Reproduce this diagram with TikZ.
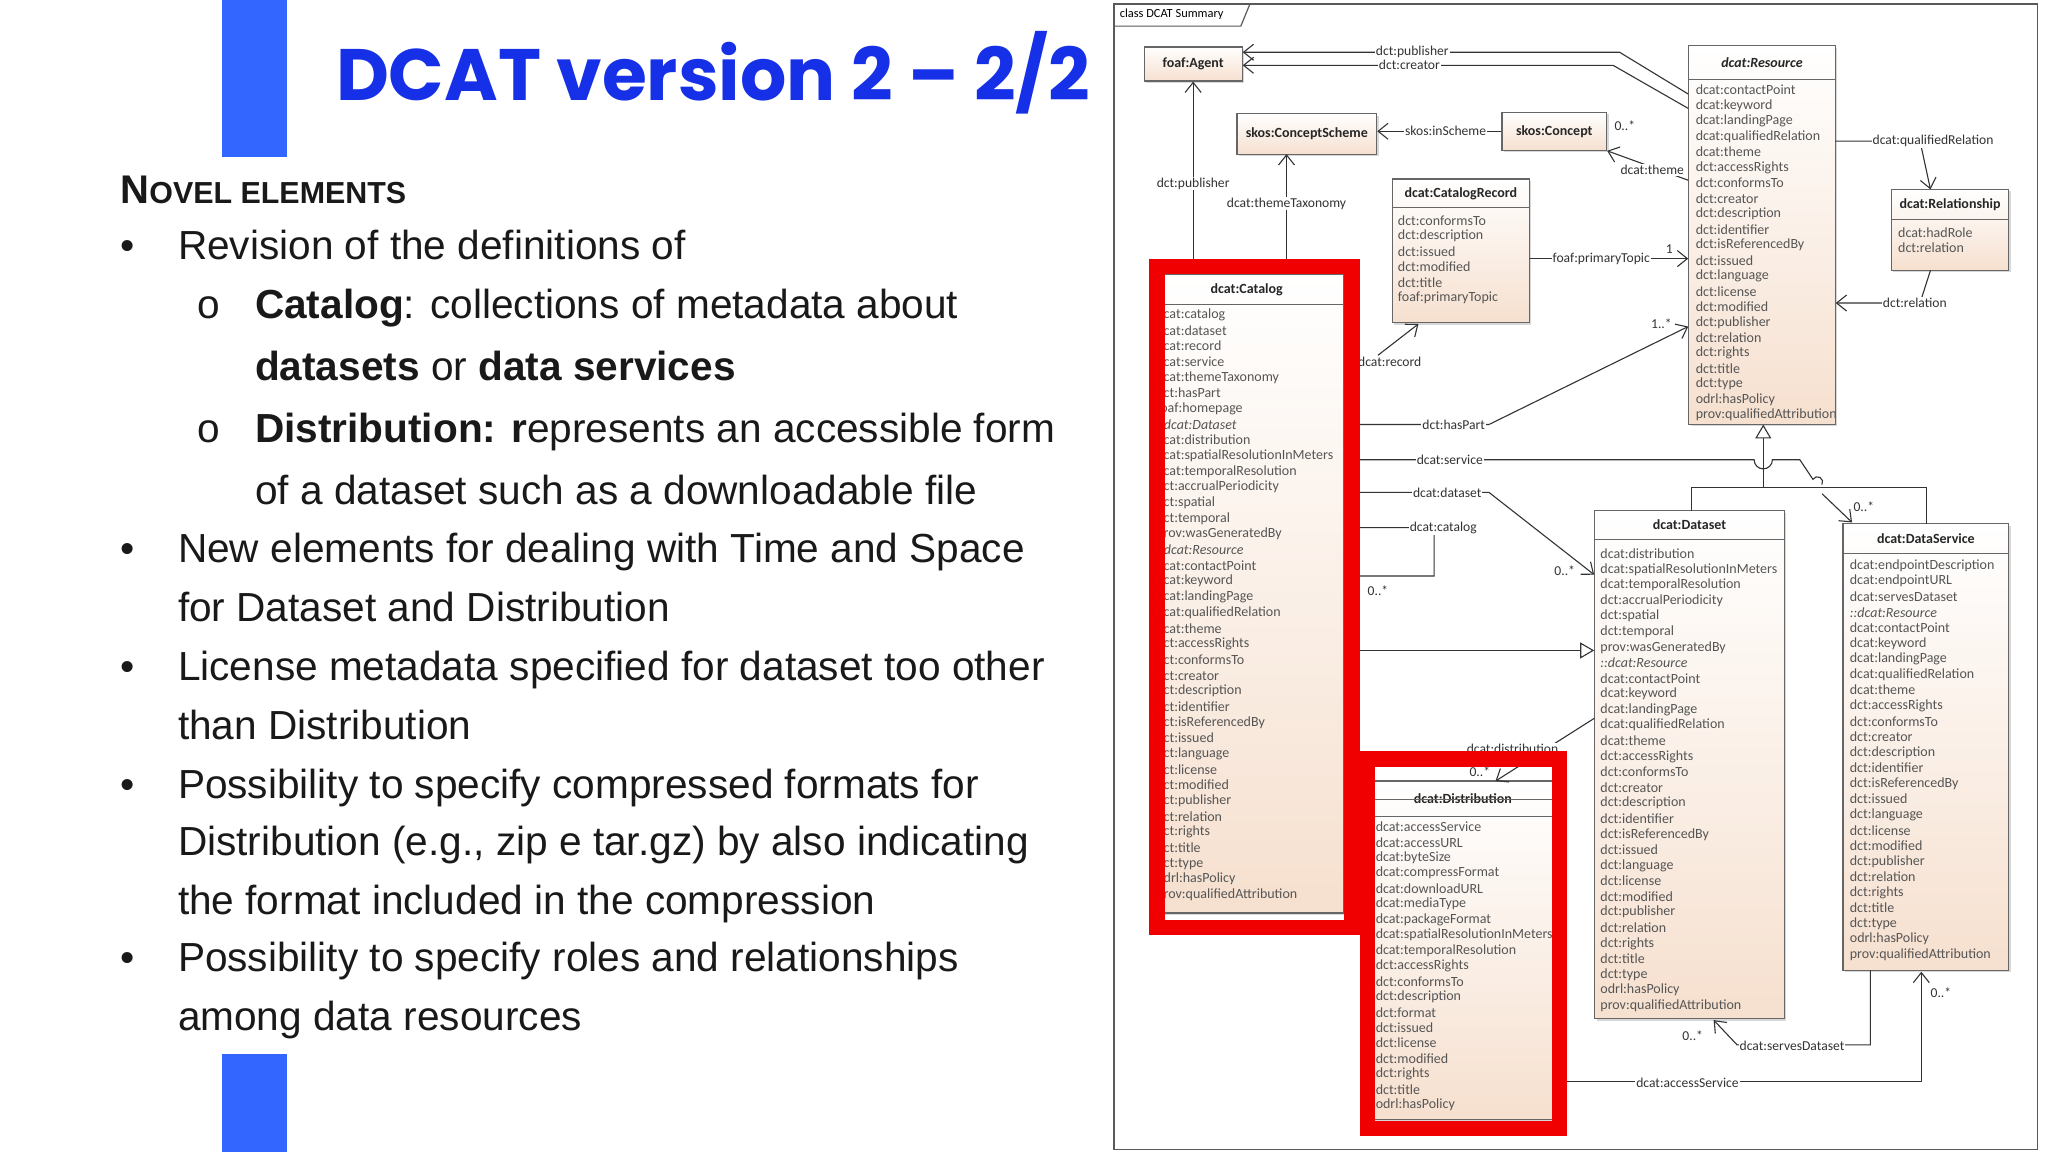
\documentclass[tikz,border=0pt]{standalone}
\usepackage{fontspec}
\setmainfont{Liberation Sans}
\newfontfamily\titlefont{Poppins}
\newfontfamily\umlfont{Carlito}
\usetikzlibrary{arrows.meta,shadows}
\definecolor{titleblue}{HTML}{1530E6}
\definecolor{barblue}{HTML}{3366FF}
\definecolor{peach}{HTML}{F6E0CF}
\definecolor{umlgray}{HTML}{555555}
\definecolor{redframe}{HTML}{F00000}
\tikzset{
  umlbox/.style={draw=gray!80!black, line width=0.6pt, top color=white, bottom color=peach, drop shadow={shadow xshift=1pt,shadow yshift=-1pt,opacity=0.3}, inner sep=0pt},
  umltitle/.style={font=\umlfont\fontsize{7}{8}\selectfont\bfseries, text=black!85},
  attr/.style={font=\umlfont\fontsize{7}{8}\selectfont, text=umlgray, anchor=west, inner sep=0pt},
  lab/.style={font=\umlfont\fontsize{6.8}{8}\selectfont, text=black!80, fill=white, inner sep=0.5pt},
  mult/.style={font=\umlfont\fontsize{6.8}{8}\selectfont, text=black!80, inner sep=0.5pt},
  conn/.style={draw=black!80, line width=0.55pt},
  assoc/.style={conn, -{Straight Barb[length=5pt,width=8pt]}},
  gen/.style={conn, -{Triangle[open,length=7pt,width=8pt,fill=white]}},
  redbox/.style={draw=redframe, line width=7.8pt},
  slide/.style={font=\fontsize{20.3}{24}\selectfont, anchor=base west, inner sep=0pt, text=black!90},
}
\newcommand\umlbox[7]{%
  \node[umlbox, minimum width={(#4-#2)*0.6531pt}, minimum height={(#5-#3)*0.6531pt}] (#1) at ({(#2+#4)/2},{(#3+#5)/2}) {};
  \draw[gray!80!black, line width=0.6pt] (#2,#6) -- (#4,#6);
  \node[umltitle] (#1t) at ({(#2+#4)/2},{(#3+#6)/2}) {#7};
}
\newcommand\attrlist[4]{%
  \foreach \t [count=\i from 0] in {#4} \node[attr] at (#1,{#2+\i*#3}) {\t};
}
\begin{document}
\begin{tikzpicture}[x=0.6531pt,y=-0.6531pt]
\useasboundingbox (0,0) rectangle (1568,882);
\fill[white] (0,0) rectangle (1568,882);
% blue bars
\fill[barblue] (170,0) rectangle (220,120);
\fill[barblue] (170,807) rectangle (220,882);
\node[anchor=base west, inner sep=0pt, text=titleblue, font=\titlefont\fontsize{36.4}{40}\selectfont\bfseries] (title) at (257,77) {DCAT version 2 – 2/2};
% left text
\node[anchor=base west, inner sep=0pt, font=\bfseries, text=black!90] (novel) at (92,156) {{\fontsize{20}{20}\selectfont N}{\fontsize{15.2}{16}\selectfont OVEL ELEMENTS}};
\node[slide] (b1) at (92,199) {•}; \node[slide] (l1) at (136,199) {Revision of the definitions of};
\node[slide] (o1) at (151,244) {o}; \node[slide] (l2) at (195,244) {\textbf{Catalog}: collections of metadata about};
\node[slide] (l3) at (195,291) {\textbf{datasets} or \textbf{data services}};
\node[slide] (o2) at (151,339) {o}; \node[slide] (l4) at (195,339) {\textbf{Distribution: r}epresents an accessible form};
\node[slide] (l5) at (195,386) {of a dataset such as a downloadable file};
\node[slide] (b2) at (92,431) {•}; \node[slide] (l6) at (136,431) {New elements for dealing with Time and Space};
\node[slide] (l7) at (136,476) {for Dataset and Distribution};
\node[slide] (b3) at (92,521) {•}; \node[slide] (l8) at (136,521) {License metadata specified for dataset too other};
\node[slide] (l9) at (136,566) {than Distribution};
\node[slide] (b4) at (92,611) {•}; \node[slide] (l10) at (136,611) {Possibility to specify compressed formats for};
\node[slide] (l11) at (136,655) {Distribution (e.g., zip e tar.gz) by also indicating};
\node[slide] (l12) at (136,700) {the format included in the compression};
\node[slide] (b5) at (92,744) {•}; \node[slide] (l13) at (136,744) {Possibility to specify roles and relationships};
\node[slide] (l14) at (136,789) {among data resources};
% diagram frame
\draw[gray!70!black, line width=0.8pt] (853,3) rectangle (1560,880);
\draw[gray!70!black, line width=0.6pt] (853,20) -- (950,20) -- (957,3);
\node[font=\umlfont\fontsize{6.2}{7}\selectfont, anchor=west, inner sep=0pt] (frametitle) at (857,11) {class DCAT Summary};
% boxes
\umlbox{agent}{876}{36}{951}{62}{62}{foaf:Agent}
\umlbox{scheme}{947}{87}{1054}{118}{118}{skos:ConceptScheme}
\umlbox{concept}{1150}{86}{1230}{115}{115}{skos:Concept}
\umlbox{res}{1293}{35}{1405}{325}{61}{\textit{dcat:Resource}}
\attrlist{1298}{69}{11.85}{dcat:contactPoint,dcat:keyword,dcat:landingPage,dcat:qualifiedRelation,dcat:theme,dct:accessRights,dct:conformsTo,dct:creator,dct:description,dct:identifier,dct:isReferencedBy,dct:issued,dct:language,dct:license,dct:modified,dct:publisher,dct:relation,dct:rights,dct:title,dct:type,odrl:hasPolicy,prov:qualifiedAttribution}
\umlbox{rel}{1448}{145}{1538}{207}{168}{dcat:Relationship}
\attrlist{1453}{178}{11.85}{dcat:hadRole,dct:relation}
\umlbox{rec}{1066}{137}{1171}{247}{159}{dcat:CatalogRecord}
\attrlist{1070}{169}{11.85}{dct:conformsTo,dct:description,dct:issued,dct:modified,dct:title,foaf:primaryTopic}
\umlbox{cat}{880}{210}{1029}{699}{233}{dcat:Catalog}
\attrlist{885}{241}{12.0}{dcat:catalog,dcat:dataset,dcat:record,dcat:service,dcat:themeTaxonomy,dct:hasPart,foaf:homepage,{\textit{::dcat:Dataset}},dcat:distribution,dcat:spatialResolutionInMeters,dcat:temporalResolution,dct:accrualPeriodicity,dct:spatial,dct:temporal,prov:wasGeneratedBy,{\textit{::dcat:Resource}},dcat:contactPoint,dcat:keyword,dcat:landingPage,dcat:qualifiedRelation,dcat:theme,dct:accessRights,dct:conformsTo,dct:creator,dct:description,dct:identifier,dct:isReferencedBy,dct:issued,dct:language,dct:license,dct:modified,dct:publisher,dct:relation,dct:rights,dct:title,dct:type,odrl:hasPolicy,prov:qualifiedAttribution}
\umlbox{ds}{1221}{391}{1366}{780}{413}{dcat:Dataset}
\attrlist{1225}{424}{11.93}{dcat:distribution,dcat:spatialResolutionInMeters,dcat:temporalResolution,dct:accrualPeriodicity,dct:spatial,dct:temporal,prov:wasGeneratedBy,{\textit{::dcat:Resource}},dcat:contactPoint,dcat:keyword,dcat:landingPage,dcat:qualifiedRelation,dcat:theme,dct:accessRights,dct:conformsTo,dct:creator,dct:description,dct:identifier,dct:isReferencedBy,dct:issued,dct:language,dct:license,dct:modified,dct:publisher,dct:relation,dct:rights,dct:title,dct:type,odrl:hasPolicy,prov:qualifiedAttribution}
\umlbox{svc}{1411}{401}{1538}{743}{424}{dcat:DataService}
\attrlist{1416}{433}{11.92}{dcat:endpointDescription,dcat:endpointURL,dcat:servesDataset,{\textit{::dcat:Resource}},dcat:contactPoint,dcat:keyword,dcat:landingPage,dcat:qualifiedRelation,dcat:theme,dct:accessRights,dct:conformsTo,dct:creator,dct:description,dct:identifier,dct:isReferencedBy,dct:issued,dct:language,dct:license,dct:modified,dct:publisher,dct:relation,dct:rights,dct:title,dct:type,odrl:hasPolicy,prov:qualifiedAttribution}
\umlbox{dist}{1048}{598}{1192}{857}{625}{dcat:Distribution}
\attrlist{1053}{633}{11.83}{dcat:accessService,dcat:accessURL,dcat:byteSize,dcat:compressFormat,dcat:downloadURL,dcat:mediaType,dcat:packageFormat,dcat:spatialResolutionInMeters,dcat:temporalResolution,dct:accessRights,dct:conformsTo,dct:description,dct:format,dct:issued,dct:license,dct:modified,dct:rights,dct:title,odrl:hasPolicy}
\draw[gray!80!black, line width=0.6pt] (1048,612) -- (1192,612);
% connectors
\draw[assoc] (res.west |- 0,72) -- (1240,40) -- (agent.east |- 0,40) node[lab, pos=0.55] {dct:publisher};
\draw[assoc] (res.west |- 0,83) -- (1235,50) -- (agent.east |- 0,50) node[lab, pos=0.55] {dct:creator};
\draw[assoc] (agent.south |- cat.north) -- (agent.south) node[lab, pos=0.47] {dct:publisher};
\draw[assoc] (985,210) -- (985,118) node[lab, pos=0.59] {dcat:themeTaxonomy};
\draw[assoc] (concept.west) -- (scheme.east |- concept.west) node[lab, pos=0.45] {skos:inScheme};
\draw[assoc] (res.west |- 0,138) -- (concept.south east);
\node[lab] (themelab) at (1265,130) {dcat:theme};
\node[mult] (m1) at (1244,96) {0..*};
\draw[assoc] (rec.east |- 0,198) -- (res.west |- 0,198) node[lab, pos=0.45] {foaf:primaryTopic};
\node[mult] (m2) at (1278,191) {1};
\draw[assoc] (1055,272) -- (1086,248);
\node[lab] (reclab) at (1064,277) {dcat:record};
\draw[assoc] (cat.east |- 0,325) -- (1140,325) -- (res.west |- 0,250);
\node[lab] (haspart) at (1113,325) {dct:hasPart};
\node[mult] (m3) at (1272,248) {1..*};
\draw[conn] (cat.east |- 0,352) -- (1343,352) arc[start angle=180,end angle=0,radius=7] -- (1378,352) -- (1388,367) arc[start angle=-150,end angle=30,radius=4] ;
\draw[assoc] (1395,378) -- (1418,400);
\node[lab] (svclab) at (1110,352) {dcat:service};
\node[mult] (m4) at (1427,388) {0..*};
\draw[gen] (1350,373) -- (1350,325);
\draw[conn] (1295,391) -- (1295,373) -- (1475,373) -- (1475,401);
\draw[assoc] (cat.east |- 0,377) -- (1140,377) -- (ds.west |- 0,440);
\node[lab] (dslab) at (1108,377) {dcat:dataset};
\node[mult] (m5) at (1198,437) {0..*};
\draw[assoc] (cat.east |- 0,404) -- (1098,404) -- (1098,441) -- (1036,441) -- (1031,446);
\node[lab] (catlab) at (1105,404) {dcat:catalog};
\node[mult] (m6) at (1055,452) {0..*};
\draw[gen] (cat.east |- 0,498) -- (ds.west |- 0,498);
\draw[assoc] (ds.west |- 0,550) -- (1145,598);
\node[lab] (distlab) at (1158,573) {dcat:distribution};
\node[mult] (m7) at (1133,591) {0..*};
\draw[assoc] (1432,743) -- (1432,800) -- (1330,800) -- (1312,781);
\node[lab] (servlab) at (1372,801) {dcat:servesDataset};
\node[mult] (m8) at (1296,793) {0..*};
\draw[assoc] (dist.east |- 0,828) -- (1471,828) -- (1471,744);
\node[lab] (acclab) at (1292,829) {dcat:accessService};
\node[mult] (m9) at (1486,760) {0..*};
\draw[assoc] (res.east |- 0,108) -- (1470,108) -- (1478,145);
\node[lab] (qrlab) at (1480,108) {dcat:qualifiedRelation};
\draw[assoc] (1478,207) -- (1470,232) -- (res.east |- 0,232);
\node[lab] (rellab) at (1466,232) {dct:relation};
% red frames
\draw[redbox] (886,204) rectangle (1035,710);
\draw[redbox] (1047,581) rectangle (1194,864);
\end{tikzpicture}
\end{document}
